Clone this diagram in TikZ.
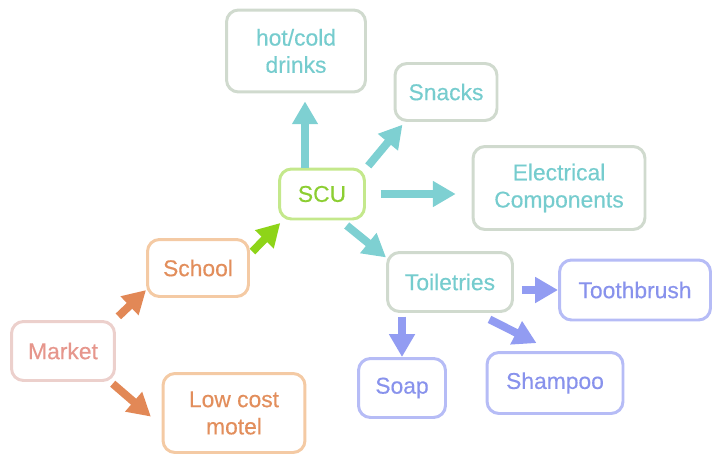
\documentclass[tikz,border=0pt]{standalone}
\usepackage{fontspec}
\setmainfont{Liberation Sans}
\newfontfamily\boxfont{Liberation Sans}[FakeBold=0.4]
\usepackage{xcolor}
\usetikzlibrary{arrows.meta}

\definecolor{tealtxt}{RGB}{118,204,206}
\definecolor{tealarr}{RGB}{126,208,210}
\definecolor{grayline}{RGB}{208,218,206}
\definecolor{greenline}{RGB}{196,232,140}
\definecolor{greentxt}{RGB}{140,206,50}
\definecolor{greenarr}{RGB}{142,212,24}
\definecolor{orangeline}{RGB}{244,202,164}
\definecolor{orangetxt}{RGB}{226,142,92}
\definecolor{orangearr}{RGB}{226,136,86}
\definecolor{pinkline}{RGB}{236,208,204}
\definecolor{pinktxt}{RGB}{230,150,140}
\definecolor{violine}{RGB}{182,188,246}
\definecolor{viotxt}{RGB}{136,146,236}
\definecolor{vioarr}{RGB}{146,156,242}

\begin{document}
\begin{tikzpicture}[x=0.02cm,y=-0.02cm,
		box/.style={draw, rounded corners=0.24cm, line width=1.7pt, align=center,
			font=\boxfont\fontsize{13}{15.5}\selectfont},
		graybox/.style={box, draw=grayline, text=tealtxt},
		violetbox/.style={box, draw=violine, text=viotxt},
		orangebox/.style={box, draw=orangeline, text=orangetxt},
		fat/.style={line width=4.5pt, -{Triangle[length=13pt,width=14pt]}}]

			\useasboundingbox (0,0) rectangle (715,456);

			% middle
			\node (scu) [box, draw=greenline, text=greentxt, minimum width=1.70cm, minimum height=1.00cm] at (322,194) {SCU};

			\node (drinks) [graybox, minimum width=2.78cm, minimum height=1.64cm] at (296,51) {hot/cold\\drinks};
			\node (snacks) [graybox, minimum width=2.04cm, minimum height=1.14cm] at (446,92) {Snacks};
			\node (elec) [graybox, minimum width=3.44cm, minimum height=1.66cm] at (559,188) {Electrical\\Components};
			\node (toil) [graybox, minimum width=2.50cm, minimum height=1.18cm] at (450,282) {Toiletries};

			\node (brush) [violetbox, minimum width=3.02cm, minimum height=1.20cm] at (635,290) {Toothbrush};
			\node (soap) [violetbox, minimum width=1.74cm, minimum height=1.18cm] at (402,388) {Soap};
			\node (shampoo) [violetbox, minimum width=2.72cm, minimum height=1.22cm] at (555,383) {Shampoo};

			% left side
			\node (school) [orangebox, minimum width=2.02cm, minimum height=1.14cm] at (198,268) {School};
			\node (market) [box, draw=pinkline, text=pinktxt, minimum width=2.06cm, minimum height=1.18cm] at (63,351) {Market};
			\node (motel) [orangebox, minimum width=2.84cm, minimum height=1.58cm] at (234,413) {Low cost\\motel};

			\draw [fat, color=tealarr, shorten >=4.5pt] ([xshift=-0.34cm]scu.north) -- ([xshift=-0.34cm]scu.north |- drinks.south);
			\draw [fat, color=tealarr, shorten <=2pt, shorten >=2pt] (scu.30) -- (snacks.216);
			\draw [fat, color=tealarr, shorten <=8.5pt, shorten >=9pt] (scu.east) -- (scu.east -| elec.west);
			\draw [fat, color=tealarr, shorten <=4.5pt] (scu.305) -- (toil.159);

			\draw [fat, color=vioarr, shorten <=4.5pt] (brush.west -| toil.east) -- (brush.west);
			\draw [fat, color=vioarr, shorten <=2pt] (soap.north |- toil.south) -- (soap.north);
			\draw [fat, color=vioarr, shorten <=8pt, shorten >=10pt] (toil.-49) -- (shampoo.95);

			\draw [fat, color=greenarr, shorten <=2pt, shorten >=2pt] (school.15) -- (scu.214);
			\draw [fat, color=orangearr, shorten <=3pt] (market.31) -- (school.203);
			\draw [fat, color=orangearr, shorten <=1.5pt, shorten >=8pt] (market.-33) -- (motel.190);

		\end{tikzpicture}
\end{document}
